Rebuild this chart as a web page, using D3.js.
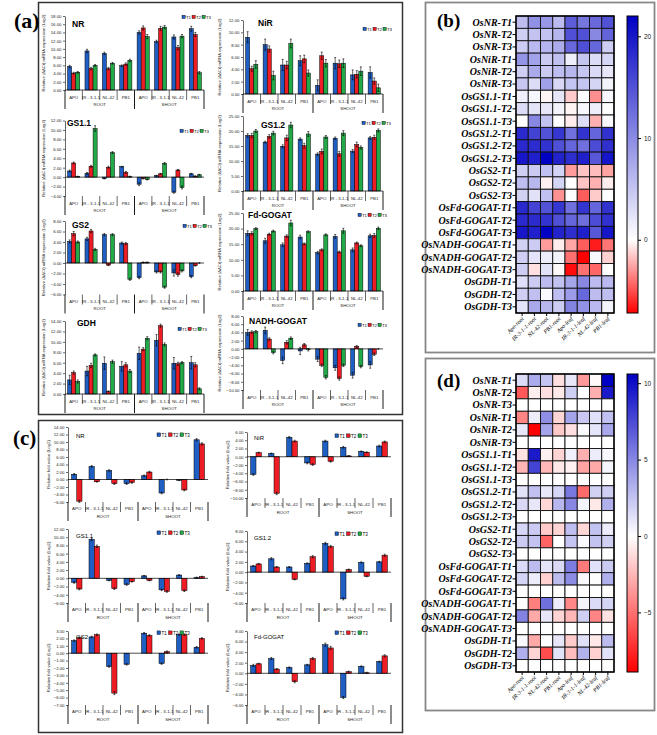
<!DOCTYPE html>
<html><head><meta charset="utf-8">
<script src="https://cdn.jsdelivr.net/npm/d3@7"></script>
<style>body{margin:0;background:#fff}</style>
</head><body>
<script>
// ---------- DATA ----------
const categories = ["APO","IR - 3-1-1","NL-42","PB1","APO","IR - 3-1-1","NL-42","PB1"];
const tissues = ["ROOT","SHOOT"];
const seriesNames = ["T1","T2","T3"];
const heatCols = ["Apo-root","IR-3-1-1-root","NL-42-root","PB1-root","Apo-leaf","IR-3-1-1-leaf","NL-42-leaf","PB1-leaf"];
const geneNames = ["NR","NiR","GS1.1","GS1.2","GS2","Fd-GOGAT","NADH-GOGAT","GDH"];

// panel (a): relative expression, [T1],[T2],[T3]
const aNR   = [[5.7,9.5,8.9,5.9,14.0,11.8,12.9,14.9],[4.1,5.2,5.2,6.3,15.1,15.0,10.3,13.5],[4.3,6.0,6.5,7.2,13.0,15.3,13.1,4.2]];
const aNiR  = [[9.2,8.0,4.7,5.4,1.4,5.0,3.1,3.5],[4.1,7.3,4.7,5.7,6.2,4.9,3.2,2.1],[4.8,3.0,8.2,3.4,5.0,5.0,3.7,1.0]];
const aGS11 = [[1.3,0.8,-0.3,2.2,-1.5,0.3,-3.2,0.7],[3.0,2.3,2.1,1.0,-0.3,0.7,1.5,0.2],[0.1,10.3,5.2,0.1,-0.5,2.9,-2.2,0.5]];
const aGS12 = [[18.5,16.3,14.9,17.3,12.3,17.6,13.3,17.7],[18.5,18.2,17.7,15.1,13.2,12.4,15.5,17.9],[20.0,19.3,22.0,19.0,18.0,19.3,14.5,20.2]];
const aGS2  = [[4.1,4.6,5.4,3.8,-2.8,-1.7,-1.9,-2.6],[5.6,6.1,-0.4,3.7,0.1,-1.7,-2.2,-0.5],[4.0,2.6,5.4,-3.1,0.1,-4.6,-1.5,0.0]];
const aFd   = [[18.5,16.1,14.8,17.3,12.3,17.5,13.2,17.7],[18.5,18.2,17.6,15.1,13.2,12.5,15.4,17.8],[20.0,19.2,21.8,19.0,18.0,19.3,14.5,20.1]];
const aNADH = [[4.0,4.5,-2.8,-0.5,-2.5,-4.6,-6.4,-3.9],[4.1,2.4,1.6,1.0,-4.0,-7.2,0.6,-1.3],[4.2,-0.9,2.6,-0.2,-6.9,-4.0,-4.3,0.0]];
const aGDH  = [[2.7,4.4,5.9,5.3,7.8,10.3,5.9,6.0],[4.1,5.5,0.5,5.6,8.6,13.1,5.8,5.6],[2.4,7.5,6.2,4.4,10.7,9.5,6.0,1.0]];
// panel (a) error bars
const aNRe   = [[0.3,0.4,0.3,0.2,0.4,0.3,0.5,0.6],[0.2,0.3,0.3,0.3,0.5,0.5,0.5,0.5],[0.2,0.2,0.2,0.3,0.5,0.4,0.4,0.3]];
const aNiRe  = [[0.9,0.9,0.9,0.8,0.9,0.9,0.8,0.9],[0.4,0.5,0.6,0.6,0.6,0.6,0.6,0.5],[0.6,0.7,0.7,0.5,0.6,0.7,0.7,0.6]];
const aGS11e = [[0.2,0.2,0.1,0.1,0.3,0.1,0.2,0.1],[0.2,0.2,0.2,0.2,0.1,0.1,0.1,0.1],[0.1,0.6,0.2,0.1,0.1,0.2,0.3,0.1]];
const aGS12e = [[0.6,0.3,0.5,0.4,0.4,0.4,0.5,0.4],[0.7,0.6,0.9,0.8,0.8,0.8,0.8,0.7],[0.5,0.6,0.9,0.8,0.5,0.8,0.5,0.5]];
const aGS2e  = [[0.3,0.3,0.2,0.2,0.2,0.2,0.6,0.2],[0.4,0.3,0.1,0.2,0.1,0.2,0.3,0.1],[0.2,0.2,0.2,0.2,0.1,0.2,0.2,0.1]];
const aFde   = [[0.8,0.8,0.6,0.6,0.4,0.6,0.6,0.5],[0.5,0.3,0.4,0.3,0.3,0.3,0.3,0.6],[0.3,0.3,0.9,0.3,0.3,0.8,0.3,0.4]];
const aNADHe = [[0.7,0.8,0.8,0.9,0.6,0.6,0.7,0.8],[0.3,0.3,0.4,0.3,0.3,0.4,0.2,0.3],[0.3,0.3,0.3,0.3,0.4,0.3,0.3,0.1]];
const aGDHe  = [[0.9,0.9,1.2,0.9,1.2,1.1,1.1,1.2],[0.3,0.4,0.1,0.4,0.3,0.3,0.3,0.4],[0.3,0.2,0.3,0.3,0.3,0.3,0.2,0.2]];

// panel (c): relative fold value, [T1],[T2]
const cNR   = [[1.4,3.5,2.4,-1.1,1.0,-3.6,-0.2,10.6],[-5.8,-0.6,-1.1,-0.8,2.0,0.0,-2.8,9.5]];
const cNiR  = [[-4.3,0.8,4.7,-1.5,3.8,2.3,1.3,2.6],[1.0,-8.9,3.8,-1.9,-1.1,0.2,1.1,3.6]];
const cGS11 = [[-1.0,9.5,-0.5,-1.5,0.6,-2.8,0.8,0.2],[-2.6,7.8,-2.5,-0.8,-0.5,-3.2,-3.0,0.4]];
const cGS12 = [[1.2,2.6,1.0,1.7,5.6,-5.2,1.9,2.0],[1.6,1.0,-1.4,3.0,5.0,0.5,-0.8,3.3]];
const cGS2  = [[1.7,2.2,-1.8,-1.5,2.7,-1.4,2.5,0.8],[2.1,2.5,-5.4,0.0,2.4,0.2,2.5,2.0]];
const cFd   = [[1.5,2.8,1.1,1.6,5.4,-4.6,1.3,2.2],[1.8,0.8,-1.6,2.8,4.8,0.3,0.1,3.3]];
// panel (c) error bars
const cNRe   = [[0.2,0.2,0.2,0.2,0.2,0.2,0.1,0.3],[0.3,0.1,0.2,0.2,0.2,0.1,0.2,0.3]];
const cNiRe  = [[0.2,0.1,0.2,0.2,0.2,0.2,0.1,0.2],[0.1,0.3,0.2,0.2,0.2,0.1,0.1,0.2]];
const cGS11e = [[0.2,0.3,0.1,0.2,0.1,0.2,0.1,0.1],[0.2,0.3,0.2,0.1,0.1,0.2,0.2,0.1]];
const cGS12e = [[0.1,0.2,0.1,0.1,0.2,0.2,0.1,0.1],[0.1,0.1,0.1,0.2,0.2,0.1,0.1,0.2]];
const cGS2e  = [[0.1,0.1,0.1,0.1,0.1,0.1,0.1,0.1],[0.1,0.1,0.2,0.0,0.1,0.1,0.1,0.1]];
const cFde   = [[0.2,0.2,0.1,0.1,0.3,0.2,0.1,0.1],[0.1,0.1,0.2,0.2,0.3,0.1,0.1,0.2]];
// panel (d) only
const dNADH = [[0.1,-4.5,6.0,0.8,-4.2,0.5,1.5,1.8],[5.2,-3.0,1.0,-1.5,-2.5,2.0,-4.3,-1.0]];
const dGDH  = [[0.3,-3.0,0.0,1.0,-1.8,1.3,-0.8,2.8],[3.3,-1.5,-6.2,1.2,-2.3,3.2,-1.6,1.2]];
const dT3   = [0,0,0,0,0,0,0,0];

const cbTicksB = [20,10,0];
const cbTicksD = [10,5,0,-5];

// ---------- SETUP ----------
const svg = d3.select("body").append("svg").attr("width",657).attr("height",735).style("background","#fff");
const COL = ["#1F5FC4","#EE1C25","#22AA48"];
const SANS = "'Liberation Sans', Arial, sans-serif";
const SERIF = "'Liberation Serif', 'Times New Roman', serif";
const BLUE = "#0000C4", RED = "#FF0000";

function frame(x,y,w,h,c,sw){svg.append("rect").attr("x",x).attr("y",y).attr("width",w).attr("height",h).attr("fill","none").attr("stroke",c).attr("stroke-width",sw);}
frame(38.5,2.5,364,412,"#333",1.5);
frame(38.5,420.5,364,312,"#333",1.5);
frame(425.5,2.5,229,350,"#888",1.8);
frame(425.5,358.5,229,352,"#888",1.8);
function plabel(t,x,y,fs){svg.append("text").attr("x",x).attr("y",y).attr("font-family",SERIF).attr("font-weight","bold").attr("font-size",fs).text(t);}
plabel("(a)",14,28,22); plabel("(c)",13,445,21); plabel("(b)",437,27,19); plabel("(d)",437,387,19);

// ---------- BAR CHART ----------
function barChart(c){
  const g = svg.append("g");
  const x = d3.scaleBand().domain(d3.range(categories.length)).range([c.x0,c.x1]);
  const bw = x.bandwidth();
  const inner = d3.scaleBand().domain(d3.range(c.data.length)).range([bw*c.pad,bw*(1-c.pad)]);
  const y = d3.scaleLinear().domain([c.min,c.max]).range([c.bottom,c.top]);
  const ticks = d3.range(c.min,c.max+c.step/2,c.step);
  const axis = d3.axisLeft(y).tickValues(ticks).tickFormat(d3.format(".2f")).tickSize(2).tickSizeOuter(0).tickPadding(1.5);
  const ag = g.append("g").attr("transform",`translate(${c.x0},0)`).call(axis);
  ag.selectAll("text").attr("font-size",c.tf).attr("font-family",SANS).attr("fill","#222");
  ag.selectAll("line,path").attr("stroke","#000").attr("stroke-width",0.6);
  c.data.forEach((arr,s)=>{
    g.append("g").selectAll("rect").data(arr).join("rect")
      .attr("x",(d,i)=>x(i)+inner(s)).attr("width",inner.bandwidth())
      .attr("y",d=>y(Math.max(0,d))).attr("height",d=>Math.abs(y(d)-y(0)))
      .attr("fill",COL[s]).attr("stroke","#000").attr("stroke-width",0.5);
    if(c.err){
      const eg = g.append("g").attr("stroke","#000").attr("stroke-width",0.6);
      arr.forEach((v,i)=>{
        const e = c.err[s][i]; if(!e) return;
        const cx = x(i)+inner(s)+inner.bandwidth()/2;
        eg.append("line").attr("x1",cx).attr("x2",cx).attr("y1",y(v-e)).attr("y2",y(v+e));
        [v-e,v+e].forEach(t=>eg.append("line").attr("x1",cx-1).attr("x2",cx+1).attr("y1",y(t)).attr("y2",y(t)));
      });
    }
  });
  g.append("line").attr("x1",c.x0).attr("x2",c.x1).attr("y1",y(0)).attr("y2",y(0)).attr("stroke","#000").attr("stroke-width",0.7);
  const lb = c.bottom;
  g.append("g").selectAll("text").data(categories).join("text")
    .attr("x",(d,i)=>x(i)+bw/2).attr("y",lb+c.ly).attr("text-anchor","middle")
    .attr("font-family",SANS).attr("font-size",c.cf).attr("fill","#222").text(d=>d);
  g.append("g").selectAll("text").data(tissues).join("text")
    .attr("x",(d,k)=>x(k*4)+bw*2).attr("y",lb+c.gy).attr("text-anchor","middle")
    .attr("font-family",SANS).attr("font-size",c.cf).attr("fill","#222").text(d=>d);
  g.append("g").selectAll("line").data(d3.range(categories.length+1)).join("line")
    .attr("x1",i=>i<categories.length?x(i):c.x1).attr("x2",i=>i<categories.length?x(i):c.x1)
    .attr("y1",lb+c.s0).attr("y2",i=>lb+(i%4===0?c.lg:c.sh))
    .attr("stroke","#000").attr("stroke-width",i=>i%4===0?0.9:0.6);
  g.append("text").attr("x",c.tx).attr("y",c.ty).attr("font-family",SANS).attr("font-weight",c.tw).attr("font-size",c.tfs).text(c.title);
  const lg = g.append("g").attr("transform",`translate(${c.lx},${c.lyy})`);
  seriesNames.forEach((s,i)=>{
    lg.append("rect").attr("x",i*c.lsp).attr("y",-c.lsq+0.5).attr("width",c.lsq).attr("height",c.lsq).attr("fill",COL[i]).attr("stroke","#000").attr("stroke-width",0.4);
    lg.append("text").attr("x",i*c.lsp+c.lsq+0.8).attr("y",0.6).attr("font-family",SANS).attr("font-size",c.lf).text(s);
  });
  const cy = (c.top+c.bottom)/2;
  g.append("text").attr("transform",`translate(${c.yx},${cy}) rotate(-90)`).attr("text-anchor","middle")
    .attr("font-family",SANS).attr("font-size",c.ytf).attr("fill","#222").text(c.ytitle);
}

const A = {pad:0.15,tf:4.3,cf:4.3,ly:8.5,gy:15.5,s0:0,sh:10,lg:19,tw:"bold",tfs:8.5,lsp:10,lsq:3.2,lf:4.3,ytf:4.2,
  ytitle:"Relative (\u0394\u0394Ct) mRNA expression  (Log2)"};
const A1 = Object.assign({},A,{x0:65,x1:204,yx:45});
const A2 = Object.assign({},A,{x0:243,x1:383,yx:221});
barChart(Object.assign({},A1,{data:aNR,err:aNRe,title:"NR",min:0,max:18,step:2,top:16,bottom:90,tx:72,ty:27,lx:182,lyy:18}));
barChart(Object.assign({},A2,{data:aNiR,err:aNiRe,title:"NiR",min:0,max:12,step:2,top:20,bottom:94,tx:258,ty:26,lx:363,lyy:30}));
barChart(Object.assign({},A1,{data:aGS11,err:aGS11e,title:"GS1.1",min:-4,max:12,step:2,top:120.5,bottom:196,tx:67,ty:126,lx:180,lyy:132}));
barChart(Object.assign({},A2,{data:aGS12,err:aGS12e,title:"GS1.2",min:0,max:25,step:5,top:116,bottom:191,tx:261,ty:128,lx:362,lyy:124}));
barChart(Object.assign({},A1,{data:aGS2,err:aGS2e,title:"GS2",min:-6,max:8,step:2,top:221,bottom:294.5,tx:72,ty:228,lx:183,lyy:227}));
barChart(Object.assign({},A2,{data:aFd,err:aFde,title:"Fd-GOGAT",min:0,max:25,step:5,top:213,bottom:291,tx:248,ty:218,lx:358,lyy:216}));
barChart(Object.assign({},A1,{data:aGDH,err:aGDHe,title:"GDH",min:0,max:14,step:2,top:321,bottom:394,tx:77,ty:326,lx:178,lyy:330}));
barChart(Object.assign({},A2,{data:aNADH,err:aNADHe,title:"NADH-GOGAT",min:-10,max:8,step:2,top:316,bottom:390,tx:249,ty:324,lx:358,lyy:326}));

const C = {pad:0.2,tf:4.3,cf:4.4,ly:8,gy:16,s0:0,sh:10,lg:19,tw:"normal",tfs:6,lsp:11.5,lsq:3.6,lf:4.5,ytf:4.3,
  ytitle:"Relative fold value (Log2)"};
const C1 = Object.assign({},C,{x0:68,x1:208,yx:50});
const C2 = Object.assign({},C,{x0:247,x1:391,yx:229});
barChart(Object.assign({},C1,{data:cNR,err:cNRe,title:"NR",min:-6,max:14,step:2,top:427,bottom:502,tx:76,ty:438,lx:157,lyy:436}));
barChart(Object.assign({},C2,{data:cNiR,err:cNiRe,title:"NiR",min:-10,max:6,step:2,top:432,bottom:498,tx:254,ty:440,lx:335,lyy:437}));
barChart(Object.assign({},C1,{data:cGS11,err:cGS11e,title:"GS1.1",min:-6,max:12,step:2,top:529,bottom:603,tx:76,ty:538,lx:157,lyy:534}));
barChart(Object.assign({},C2,{data:cGS12,err:cGS12e,title:"GS1.2",min:-6,max:8,step:2,top:531,bottom:603,tx:254,ty:540,lx:335,lyy:535}));
barChart(Object.assign({},C1,{data:cGS2,err:cGS2e,title:"GS2",min:-7,max:3,step:1,top:631,bottom:705,tx:76,ty:639,lx:157,lyy:634}));
barChart(Object.assign({},C2,{data:cFd,err:cFde,title:"Fd-GOGAT",min:-6,max:8,step:2,top:631,bottom:705,tx:254,ty:639,lx:335,lyy:634}));

// ---------- HEATMAPS ----------
const rowLabels = [];
geneNames.forEach(gn=>seriesNames.forEach(s=>rowLabels.push("Os"+gn+"-"+s)));
const matB = [aNR,aNiR,aGS11,aGS12,aGS2,aFd,aNADH,aGDH].flatMap(m=>m);
const matD = [cNR,cNiR,cGS11,cGS12,cGS2,cFd,dNADH,dGDH].flatMap(m=>[m[0],m[1],dT3]);
let gradId = 0;
function heatmap(mat,c){
  const g = svg.append("g");
  const x = d3.scaleBand().domain(d3.range(heatCols.length)).range([c.x0,c.x1]);
  const y = d3.scaleBand().domain(d3.range(rowLabels.length)).range([c.y0,c.y1]);
  const mn = d3.min(mat,r=>d3.min(r)), mx = d3.max(mat,r=>d3.max(r));
  const color = v => v>=0 ? d3.interpolateRgb("#ffffff",BLUE)(v/mx) : d3.interpolateRgb("#ffffff",RED)(v/mn);
  mat.forEach((row,r)=>{
    g.append("g").selectAll("rect").data(row).join("rect")
      .attr("x",(d,k)=>x(k)).attr("y",y(r)).attr("width",x.bandwidth()).attr("height",y.bandwidth())
      .attr("fill",d=>color(d)).attr("stroke","#111").attr("stroke-width",0.9);
  });
  g.append("rect").attr("x",c.x0).attr("y",c.y0).attr("width",c.x1-c.x0).attr("height",c.y1-c.y0).attr("fill","none").attr("stroke","#000").attr("stroke-width",1.4);
  g.append("g").selectAll("text").data(rowLabels).join("text")
    .attr("x",c.x0-4).attr("y",(d,i)=>y(i)+y.bandwidth()/2+3.4).attr("text-anchor","end")
    .attr("font-family",SERIF).attr("font-style","italic").attr("font-weight","bold").attr("font-size",10).text(d=>d);
  g.append("g").selectAll("line").data(rowLabels).join("line")
    .attr("x1",c.x0-3.5).attr("x2",c.x0).attr("y1",(d,i)=>y(i)+y.bandwidth()/2).attr("y2",(d,i)=>y(i)+y.bandwidth()/2)
    .attr("stroke","#000").attr("stroke-width",1);
  g.append("g").selectAll("line").data(heatCols).join("line")
    .attr("x1",(d,k)=>x(k)+x.bandwidth()/2).attr("x2",(d,k)=>x(k)+x.bandwidth()/2).attr("y1",c.y1).attr("y2",c.y1+3)
    .attr("stroke","#000").attr("stroke-width",1);
  g.append("g").selectAll("text").data(heatCols).join("text")
    .attr("transform",(d,k)=>`translate(${x(k)+x.bandwidth()/2+2},${c.y1+6}) rotate(-45)`).attr("text-anchor","end")
    .attr("font-family",SERIF).attr("font-style","italic").attr("font-size",5.8).text(d=>d);
  const id = "grad"+(gradId++);
  const lgd = svg.append("defs").append("linearGradient").attr("id",id).attr("x1",0).attr("x2",0).attr("y1",0).attr("y2",1);
  lgd.append("stop").attr("offset",0).attr("stop-color",BLUE);
  lgd.append("stop").attr("offset",mx/(mx-mn)).attr("stop-color","#ffffff");
  lgd.append("stop").attr("offset",1).attr("stop-color",RED);
  g.append("rect").attr("x",c.cbx).attr("y",c.y0).attr("width",11).attr("height",c.y1-c.y0).attr("fill",`url(#${id})`).attr("stroke","#000").attr("stroke-width",1);
  const cy = d3.scaleLinear().domain([mn,mx]).range([c.y1,c.y0]);
  const cax = d3.axisRight(cy).tickValues(c.ticks).tickSize(3).tickSizeOuter(0).tickPadding(3);
  const cg = g.append("g").attr("transform",`translate(${c.cbx+11},0)`).call(cax);
  cg.select("path").remove();
  cg.selectAll("text").attr("font-family",SANS).attr("font-size",6.5).attr("fill","#222");
  cg.selectAll("line").attr("stroke","#000");
}
heatmap(matB,{x0:516,x1:614,y0:16,y1:313,cbx:627,ticks:cbTicksB});
heatmap(matD,{x0:516,x1:614,y0:374,y1:672,cbx:627,ticks:cbTicksD});
</script>
</body></html>
